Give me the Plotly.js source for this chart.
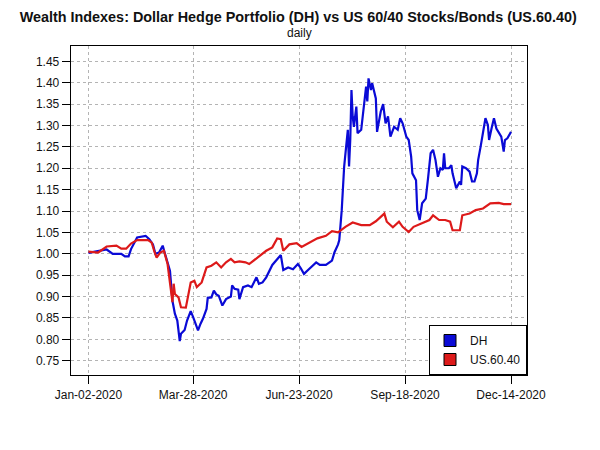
<!DOCTYPE html>
<html>
<head>
<meta charset="utf-8">
<script src="https://cdn.plot.ly/plotly-3.0.1.min.js"></script>
<style>
  body { margin: 0; background: #ffffff; }
  #chart { width: 600px; height: 450px; }
</style>
</head>
<body>
<div id="chart"></div>
<script>
// Dollar Hedge portfolio (DH)
var dhDates = [
    '2020-01-02', '2020-01-07', '2020-01-17', '2020-01-22', '2020-01-29', '2020-02-01', '2020-02-04', '2020-02-06',
    '2020-02-11', '2020-02-18', '2020-02-21', '2020-02-24', '2020-02-26', '2020-02-29', '2020-03-03', '2020-03-05',
    '2020-03-07', '2020-03-09', '2020-03-11', '2020-03-13', '2020-03-15', '2020-03-17', '2020-03-18', '2020-03-21',
    '2020-03-23', '2020-03-26', '2020-03-28', '2020-03-29', '2020-04-01', '2020-04-03', '2020-04-05', '2020-04-08',
    '2020-04-09', '2020-04-12', '2020-04-14', '2020-04-16', '2020-04-18', '2020-04-21', '2020-04-24', '2020-04-28',
    '2020-04-29', '2020-05-01', '2020-05-04', '2020-05-05', '2020-05-08', '2020-05-12', '2020-05-15', '2020-05-19',
    '2020-05-21', '2020-05-24', '2020-05-27', '2020-06-01', '2020-06-07', '2020-06-08', '2020-06-10', '2020-06-14',
    '2020-06-18', '2020-06-22', '2020-06-24', '2020-06-27', '2020-07-01', '2020-07-07', '2020-07-10', '2020-07-15',
    '2020-07-20', '2020-07-22', '2020-07-25', '2020-07-26', '2020-07-28', '2020-07-29', '2020-07-30', '2020-08-02',
    '2020-08-03', '2020-08-04', '2020-08-05', '2020-08-06', '2020-08-07', '2020-08-09', '2020-08-10', '2020-08-13',
    '2020-08-14', '2020-08-17', '2020-08-18', '2020-08-19', '2020-08-21', '2020-08-22', '2020-08-25', '2020-08-26',
    '2020-08-29', '2020-08-31', '2020-09-02', '2020-09-04', '2020-09-06', '2020-09-09', '2020-09-12', '2020-09-14',
    '2020-09-16', '2020-09-19', '2020-09-21', '2020-09-23', '2020-09-24', '2020-09-27', '2020-09-28', '2020-09-30',
    '2020-10-02', '2020-10-05', '2020-10-07', '2020-10-09', '2020-10-11', '2020-10-13', '2020-10-15', '2020-10-17',
    '2020-10-19', '2020-10-20', '2020-10-21', '2020-10-24', '2020-10-26', '2020-10-27', '2020-10-30', '2020-11-02',
    '2020-11-03', '2020-11-04', '2020-11-07', '2020-11-10', '2020-11-12', '2020-11-14', '2020-11-16', '2020-11-17',
    '2020-11-19', '2020-11-21', '2020-11-23', '2020-11-25', '2020-11-26', '2020-11-28', '2020-11-30', '2020-12-02',
    '2020-12-04', '2020-12-06', '2020-12-08', '2020-12-09', '2020-12-11', '2020-12-14'
];
var dhValues = [
    1.002, 1.005, 1.010, 1.000, 1.000, 0.994, 0.994, 1.011,
    1.038, 1.042, 1.034, 1.022, 1.000, 1.003, 1.019, 0.999,
    0.976, 0.960, 0.890, 0.860, 0.844, 0.796, 0.813, 0.822,
    0.844, 0.866, 0.852, 0.844, 0.821, 0.836, 0.848, 0.871,
    0.897, 0.898, 0.914, 0.905, 0.902, 0.879, 0.894, 0.900,
    0.926, 0.918, 0.916, 0.894, 0.922, 0.926, 0.922, 0.945,
    0.930, 0.933, 0.945, 0.974, 0.995, 0.997, 0.962, 0.968,
    0.964, 0.976, 0.968, 0.953, 0.964, 0.980, 0.974, 0.974,
    0.984, 1.003, 1.022, 1.032, 1.102, 1.172, 1.204, 1.290,
    1.204, 1.266, 1.383, 1.321, 1.297, 1.344, 1.282, 1.290,
    1.317, 1.391, 1.356, 1.410, 1.383, 1.399, 1.363, 1.285,
    1.332, 1.350, 1.305, 1.321, 1.274, 1.297, 1.290, 1.317,
    1.305, 1.274, 1.266, 1.227, 1.188, 1.172, 1.102, 1.079,
    1.118, 1.129, 1.180, 1.235, 1.243, 1.219, 1.180, 1.200,
    1.196, 1.235, 1.200, 1.200, 1.207, 1.188, 1.153, 1.169,
    1.161, 1.204, 1.200, 1.192, 1.169, 1.169, 1.188, 1.219,
    1.250, 1.289, 1.317, 1.301, 1.266, 1.293, 1.317, 1.293,
    1.282, 1.274, 1.239, 1.266, 1.270, 1.285
];

// US 60/40 stocks/bonds (US.60.40)
var usDates = [
    '2020-01-02', '2020-01-10', '2020-01-17', '2020-01-25', '2020-01-29', '2020-02-02', '2020-02-06', '2020-02-11',
    '2020-02-20', '2020-02-23', '2020-02-25', '2020-02-27', '2020-03-01', '2020-03-04', '2020-03-07', '2020-03-09',
    '2020-03-11', '2020-03-12', '2020-03-13', '2020-03-16', '2020-03-18', '2020-03-22', '2020-03-24', '2020-03-26',
    '2020-03-29', '2020-03-31', '2020-04-04', '2020-04-08', '2020-04-12', '2020-04-16', '2020-04-20', '2020-04-24',
    '2020-04-28', '2020-05-01', '2020-05-05', '2020-05-10', '2020-05-13', '2020-05-19', '2020-05-27', '2020-06-01',
    '2020-06-05', '2020-06-08', '2020-06-10', '2020-06-15', '2020-06-21', '2020-06-25', '2020-07-01', '2020-07-08',
    '2020-07-15', '2020-07-20', '2020-07-25', '2020-07-31', '2020-08-06', '2020-08-13', '2020-08-20', '2020-08-25',
    '2020-09-01', '2020-09-03', '2020-09-08', '2020-09-13', '2020-09-16', '2020-09-21', '2020-09-25', '2020-10-02',
    '2020-10-08', '2020-10-11', '2020-10-16', '2020-10-21', '2020-10-25', '2020-10-27', '2020-11-02', '2020-11-04',
    '2020-11-10', '2020-11-15', '2020-11-21', '2020-11-27', '2020-12-04', '2020-12-08', '2020-12-14'
];
var usValues = [
    1.005, 1.003, 1.017, 1.019, 1.012, 1.012, 1.024, 1.032,
    1.032, 1.026, 1.007, 0.991, 1.003, 1.007, 0.976, 0.937,
    0.887, 0.930, 0.906, 0.898, 0.875, 0.874, 0.902, 0.933,
    0.937, 0.922, 0.933, 0.968, 0.972, 0.980, 0.968, 0.980,
    0.988, 0.980, 0.982, 0.980, 0.976, 0.990, 1.007, 1.015,
    1.036, 1.034, 1.007, 1.022, 1.025, 1.016, 1.026, 1.036,
    1.042, 1.053, 1.050, 1.063, 1.073, 1.067, 1.067, 1.076,
    1.094, 1.075, 1.062, 1.075, 1.063, 1.051, 1.063, 1.071,
    1.079, 1.090, 1.079, 1.079, 1.075, 1.055, 1.055, 1.090,
    1.094, 1.102, 1.106, 1.118, 1.119, 1.116, 1.116
];

var seriesNames = ['DH', 'US.60.40'];
var seriesColors = ['#0a0ad6', '#dd1a1a'];

var xTickVals = ['2020-01-02', '2020-03-28', '2020-06-23', '2020-09-18', '2020-12-14'];
var yTickVals = [0.75, 0.80, 0.85, 0.90, 0.95, 1.00, 1.05, 1.10, 1.15, 1.20, 1.25, 1.30, 1.35, 1.40, 1.45];

var fontFamily = 'Liberation Sans, Arial, sans-serif';

var traces = [];
var lineData = [[dhDates, dhValues], [usDates, usValues]];
for (var i = 0; i < lineData.length; i++) {
    traces.push({
        type: 'scatter',
        mode: 'lines',
        x: lineData[i][0],
        y: lineData[i][1],
        name: seriesNames[i],
        showlegend: false,
        line: { color: seriesColors[i], width: 2.2 },
        hoverinfo: 'x+y+name'
    });
}
// legend entries drawn as filled squares, like the original
for (var j = 0; j < seriesNames.length; j++) {
    traces.push({
        type: 'bar',
        x: [null],
        y: [null],
        name: seriesNames[j],
        marker: { color: seriesColors[j], line: { color: '#000000', width: 1 } }
    });
}

var yRange = [0.7166, 1.4858];
var yAxisBase = {
    range: yRange,
    tickvals: yTickVals,
    tickformat: '.2f',
    ticks: 'outside',
    ticklen: 8,
    tickcolor: '#000000',
    tickfont: { family: fontFamily, size: 12, color: '#111111' },
    zeroline: false
};

var layout = {
    width: 600,
    height: 450,
    margin: { l: 71, r: 73, t: 46, b: 75 },
    paper_bgcolor: '#ffffff',
    plot_bgcolor: '#ffffff',
    font: { family: fontFamily, size: 12, color: '#111111' },
    title: {
        text: '<b>Wealth Indexes: Dollar Hedge Portfolio (DH) vs US 60/40 Stocks/Bonds (US.60.40)</b>',
        font: { family: fontFamily, size: 14.4, color: '#111111' },
        x: 0.497,
        xanchor: 'center',
        yref: 'container',
        y: 1 - 17 / 450,
        yanchor: 'middle'
    },
    annotations: [{
        text: 'daily',
        xref: 'paper',
        yref: 'paper',
        x: 0.5,
        y: 1.0395,
        xanchor: 'center',
        yanchor: 'middle',
        showarrow: false,
        font: { family: fontFamily, size: 12, color: '#111111' }
    }],
    xaxis: {
        type: 'date',
        range: ['2019-12-18 17:00', '2020-12-27 03:00'],
        tickvals: xTickVals,
        tickformat: '%b-%d-%Y',
        ticks: 'outside',
        ticklen: 8,
        tickcolor: '#000000',
        tickfont: { family: fontFamily, size: 12, color: '#111111' },
        showgrid: true,
        gridcolor: '#b4b4b4',
        griddash: 'dot',
        gridwidth: 1,
        showline: true,
        mirror: true,
        linecolor: '#000000',
        linewidth: 1.3,
        zeroline: false
    },
    yaxis: Object.assign({}, yAxisBase, {
        side: 'left',
        showgrid: true,
        gridcolor: '#b4b4b4',
        griddash: 'dot',
        gridwidth: 1,
        showline: true,
        mirror: true,
        linecolor: '#000000',
        linewidth: 1.3
    }),
    yaxis2: Object.assign({}, yAxisBase, {
        overlaying: 'y',
        side: 'right',
        anchor: 'x',
        showgrid: false,
        showline: false
    }),
    showlegend: true,
    legend: {
        x: 1,
        y: 0,
        xanchor: 'right',
        yanchor: 'bottom',
        bgcolor: '#ffffff',
        bordercolor: '#000000',
        borderwidth: 1,
        traceorder: 'normal',
        font: { family: fontFamily, size: 12, color: '#111111' },
        itemwidth: 30,
        tracegroupgap: 0
    },
    hovermode: 'closest'
};

Plotly.newPlot('chart', traces, layout, { displayModeBar: false, staticPlot: true });
</script>
</body>
</html>
